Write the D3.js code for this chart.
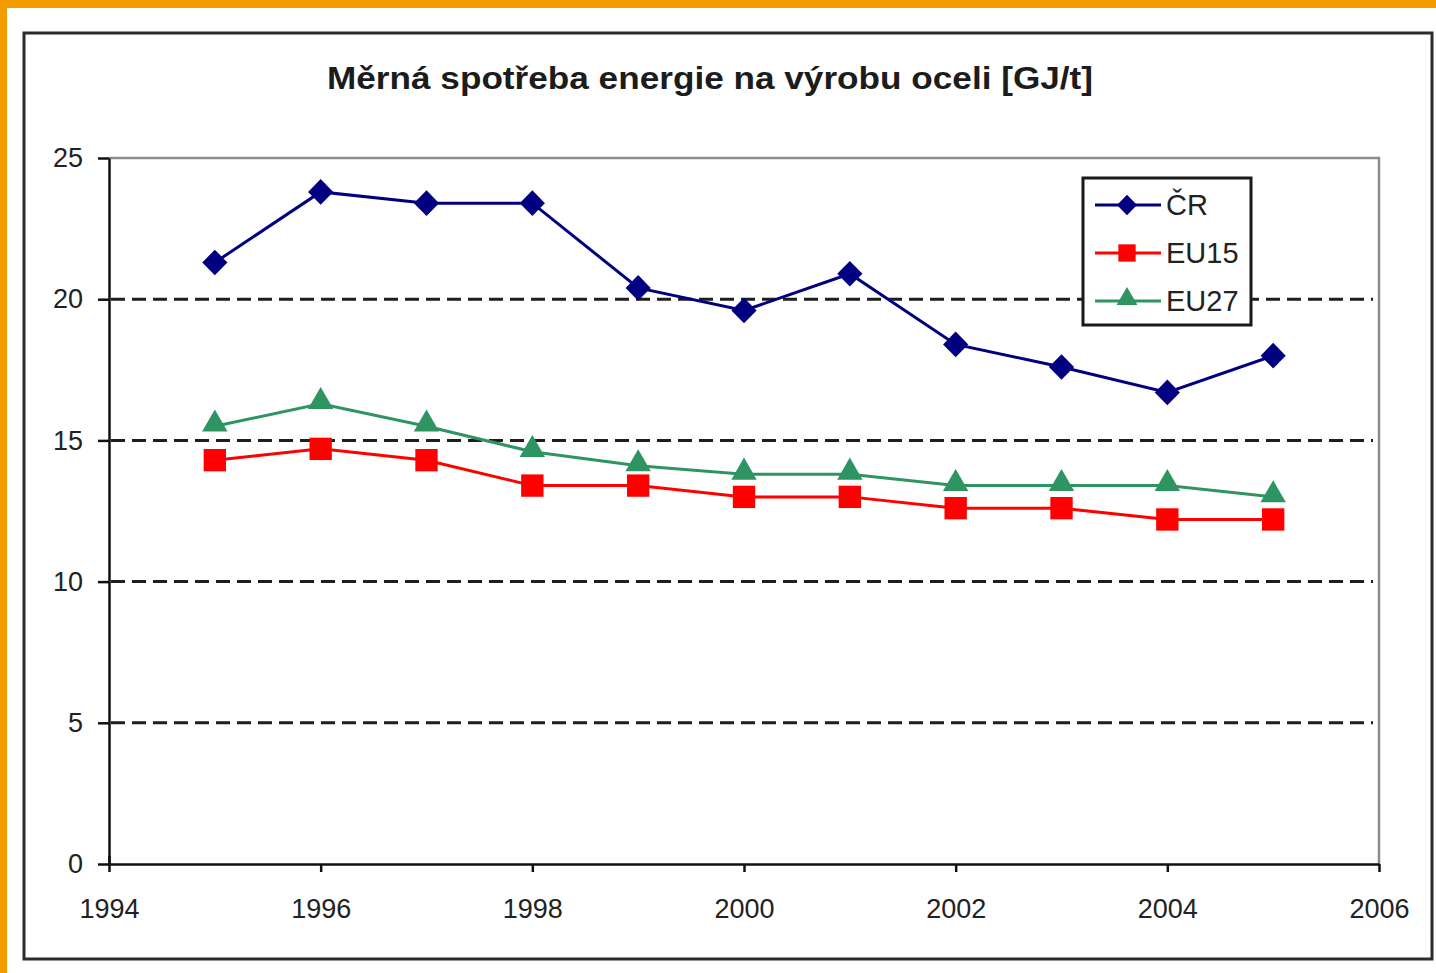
<!DOCTYPE html>
<html>
    <body>
        <svg id="svg"></svg>
    </body>
</html>

<script src="https://d3js.org/d3.v7.min.js"></script>

<script>
    let visWidth = 1436;
    let visHeight = 973;

    // data
    let years = [1995, 1996, 1997, 1998, 1999, 2000, 2001, 2002, 2003, 2004, 2005];
    let cr   = [21.3, 23.8, 23.4, 23.4, 20.4, 19.6, 20.9, 18.4, 17.6, 16.7, 18.0];
    let eu15 = [14.3, 14.7, 14.3, 13.4, 13.4, 13.0, 13.0, 12.6, 12.6, 12.2, 12.2];
    let eu27 = [15.5, 16.3, 15.5, 14.6, 14.1, 13.8, 13.8, 13.4, 13.4, 13.4, 13.0];
    let seriesNames = ['ČR', 'EU15', 'EU27'];
    let xTicks = [1994, 1996, 1998, 2000, 2002, 2004, 2006];
    let yTicks = [0, 5, 10, 15, 20, 25];
    let gridValues = [5, 10, 15, 20];
    let title = 'Měrná spotřeba energie na výrobu oceli [GJ/t]';

    let series = [
        { name: seriesNames[0], values: cr, color: '#000080', symbol: d3.symbolDiamond, size: 190, legendSize: 120, sx: 1.7 },
        { name: seriesNames[1], values: eu15, color: '#ff0000', symbol: d3.symbolSquare, size: 500, legendSize: 300, sx: 1 },
        { name: seriesNames[2], values: eu27, color: '#2e9462', symbol: d3.symbolTriangle, size: 280, legendSize: 190, sx: 1 }
    ];

    let svg = d3.select('#svg')
        .attr('width', visWidth)
        .attr('height', visHeight)
        .style('display', 'block');

    // orange edge of the screenshot
    svg.append('rect')
        .attr('x', 0).attr('y', 0)
        .attr('width', visWidth).attr('height', visHeight)
        .attr('fill', '#f29c00');
    svg.append('rect')
        .attr('x', 7).attr('y', 8)
        .attr('width', visWidth - 7).attr('height', visHeight - 8)
        .attr('fill', 'white');

    // chart frame
    svg.append('rect')
        .attr('x', 24).attr('y', 33)
        .attr('width', 1408).attr('height', 926)
        .attr('fill', 'none')
        .attr('stroke', '#2b2b2b')
        .attr('stroke-width', 3);

    let xScale = d3.scaleLinear()
        .domain([1994, 2006])
        .range([109, 1379]);

    let yScale = d3.scaleLinear()
        .domain([0, 25])
        .range([864, 158]);

    // plot area border (top + right, grey)
    svg.append('path')
        .attr('d', `M${xScale(1994)},${yScale(25)}H${xScale(2006)}V${yScale(0)}`)
        .attr('fill', 'none')
        .attr('stroke', '#8c8c8c')
        .attr('stroke-width', 2.5);

    // dashed grid
    svg.selectAll('.grid')
        .data(gridValues)
        .enter()
        .append('line')
        .attr('class', 'grid')
        .attr('x1', xScale(1994) + 2)
        .attr('x2', xScale(2006) - 6)
        .attr('y1', d => yScale(d))
        .attr('y2', d => yScale(d))
        .attr('stroke', '#1e1e1e')
        .attr('stroke-width', 3)
        .attr('stroke-dasharray', '14 7');

    let yAxis = d3.axisLeft(yScale)
        .tickValues(yTicks)
        .tickSize(11)
        .tickSizeOuter(0)
        .tickPadding(15);

    let xAxis = d3.axisBottom(xScale)
        .tickValues(xTicks)
        .tickFormat(d3.format('d'))
        .tickSize(8)
        .tickSizeOuter(0)
        .tickPadding(27);

    let yAxisGroup = svg.append('g')
        .attr('class', 'axis')
        .attr('transform', `translate(${xScale(1994)},0)`)
        .call(yAxis);

    let xAxisGroup = svg.append('g')
        .attr('class', 'axis')
        .attr('transform', `translate(0,${yScale(0)})`)
        .call(xAxis);

    // Excel style: the 1994 tick crosses the axis
    xAxisGroup.selectAll('.tick line')
        .attr('y1', (d, i) => i == 0 ? -8 : 0);

    svg.selectAll('.axis path, .axis line')
        .attr('stroke', '#111')
        .attr('stroke-width', 2.5);
    svg.selectAll('.axis text')
        .attr('fill', '#222')
        .style('font-size', '27px')
        .style('font-family', 'Liberation Sans, Arial, sans-serif');

    // title
    svg.append('text')
        .text(title)
        .attr('x', 710)
        .attr('y', 89)
        .attr('text-anchor', 'middle')
        .attr('textLength', 766)
        .attr('lengthAdjust', 'spacingAndGlyphs')
        .attr('fill', '#1c1c1c')
        .attr('class', 'title');

    let line = d3.line()
        .x((d, i) => xScale(years[i]))
        .y(d => yScale(d));

    series.forEach(function(s) {
        svg.append('path')
            .datum(s.values)
            .attr('d', line)
            .attr('fill', 'none')
            .attr('stroke', s.color)
            .attr('stroke-width', 3);

        svg.selectAll('.pt-' + s.name)
            .data(s.values)
            .enter()
            .append('path')
            .attr('d', d3.symbol().type(s.symbol).size(s.size))
            .attr('transform', (d, i) => {
                let dy = s.symbol == d3.symbolTriangle ? -2 : 0;
                return `translate(${xScale(years[i])},${yScale(d) + dy}) scale(${s.sx},1)`;
            })
            .attr('fill', s.color);
    });

    // legend
    let legend = svg.append('g')
        .attr('transform', 'translate(1083,178)');

    legend.append('rect')
        .attr('x', 0).attr('y', 0)
        .attr('width', 168).attr('height', 147)
        .attr('fill', 'white')
        .attr('stroke', '#1a1a1a')
        .attr('stroke-width', 3);

    series.forEach(function(s, i) {
        let ly = 27 + i * 48;
        legend.append('line')
            .attr('x1', 12).attr('x2', 78)
            .attr('y1', ly).attr('y2', ly)
            .attr('stroke', s.color)
            .attr('stroke-width', 3);
        legend.append('path')
            .attr('d', d3.symbol().type(s.symbol).size(s.legendSize))
            .attr('transform', () => {
                let dy = s.symbol == d3.symbolTriangle ? -2 : 0;
                return `translate(44,${ly + dy}) scale(${s.sx},1)`;
            })
            .attr('fill', s.color);
        legend.append('text')
            .text(s.name)
            .attr('x', 83)
            .attr('y', ly + 10)
            .attr('fill', '#222')
            .attr('class', 'legend');
    });

</script>

<style>
    body {
        margin: 0;
        font-family: "Liberation Sans", Arial;
    }
    svg .title {
        font-size: 32px;
        font-weight: bold;
    }
    svg .legend {
        font-size: 29px;
    }
</style>
